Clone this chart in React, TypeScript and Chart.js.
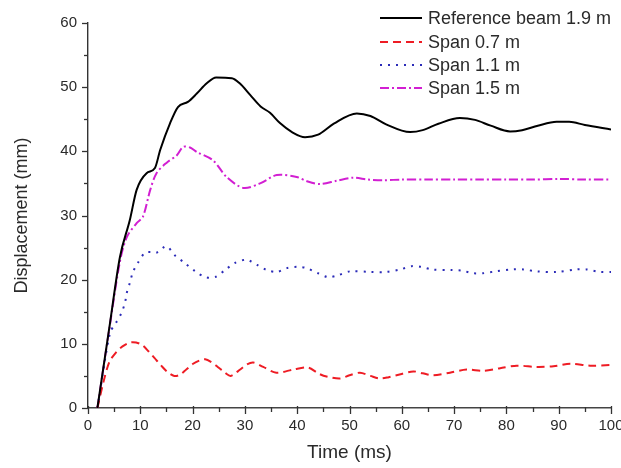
import React, { useEffect, useRef } from "react";
import { Chart, registerables } from "chart.js";

Chart.register(...registerables);

// ---- Data ----
const refTime = [1.8, 4.2, 6.1, 8.0, 9.3, 11.2, 12.8, 13.8, 15.7, 17.2, 19.1, 20.8, 22.7, 24.5, 27.5, 29.0, 31.0, 33.0, 34.8, 36.7, 39.0, 41.5, 44.0, 47.0, 51.4, 54.0, 57.0, 61.6, 64.0, 67.0, 71.1, 74.0, 77.0, 80.7, 83.0, 86.0, 89.6, 92.0, 95.0, 100];
const refDisp = [0, 13.2, 23.5, 29.3, 34.0, 36.6, 37.4, 40.2, 44.4, 46.9, 47.7, 49.0, 50.6, 51.5, 51.4, 50.6, 48.8, 47.0, 46.0, 44.4, 43.0, 42.2, 42.6, 44.3, 45.9, 45.5, 44.2, 43.0, 43.3, 44.3, 45.2, 44.9, 44.0, 43.1, 43.3, 44.0, 44.6, 44.6, 44.1, 43.4];

const span07Time = [1.8, 3.0, 4.1, 5.3, 6.6, 8.0, 9.2, 10.4, 11.6, 12.7, 14.0, 15.2, 16.5, 17.6, 18.8, 20.1, 21.3, 22.4, 23.5, 24.8, 26.2, 27.3, 29.1, 30.4, 31.6, 33.5, 36.0, 39.3, 42.1, 44.0, 45.6, 48.2, 50.0, 52.0, 54.0, 55.8, 57.5, 59.0, 62.2, 64.0, 66.0, 69.2, 72.4, 75.6, 78.8, 82.0, 85.8, 89.0, 92.2, 96.0, 100];
const span07Disp = [0, 4.2, 7.2, 8.6, 9.6, 10.2, 10.2, 9.8, 8.8, 7.8, 6.6, 5.6, 5.0, 5.2, 6.0, 6.9, 7.4, 7.6, 7.2, 6.4, 5.5, 5.0, 6.0, 6.8, 7.1, 6.4, 5.5, 6.0, 6.3, 5.4, 4.9, 4.6, 5.1, 5.5, 5.0, 4.6, 4.8, 5.1, 5.7, 5.4, 5.1, 5.5, 6.0, 5.8, 6.2, 6.6, 6.4, 6.5, 6.9, 6.6, 6.7];

const span11Time = [1.8, 4.2, 5.3, 6.4, 7.1, 7.4, 8.0, 8.6, 9.6, 10.9, 12.0, 13.1, 15.0, 16.6, 18.5, 20.5, 22.4, 24.3, 26.2, 28.1, 30.3, 32.3, 34.2, 36.1, 38.0, 40.2, 41.8, 44.0, 45.9, 47.8, 50.1, 54.0, 57.0, 59.7, 61.9, 63.8, 65.7, 69.5, 71.6, 73.6, 75.5, 78.0, 81.3, 83.2, 85.8, 89.6, 93.4, 95.3, 97.9, 100];
const span11Disp = [0, 11.7, 13.2, 14.8, 16.5, 17.9, 19.5, 21.2, 22.7, 24.2, 24.3, 24.2, 25.2, 23.8, 22.6, 21.3, 20.4, 20.4, 21.5, 22.6, 23.1, 22.3, 21.5, 21.2, 21.8, 22.0, 21.8, 21.0, 20.4, 20.7, 21.3, 21.2, 21.2, 21.6, 22.1, 22.0, 21.6, 21.5, 21.4, 21.0, 21.0, 21.3, 21.6, 21.6, 21.3, 21.2, 21.6, 21.6, 21.2, 21.2];

const span15Time = [1.8, 4.2, 6.1, 7.4, 9.3, 10.5, 11.9, 13.1, 15.0, 17.0, 18.2, 19.5, 20.8, 23.9, 26.5, 29.7, 32.9, 36.1, 39.9, 42.0, 44.4, 47.5, 50.7, 53.5, 56.4, 60, 65, 70, 75, 80, 85, 90, 95, 100];
const span15Disp = [0, 13.0, 22.8, 26.6, 28.8, 29.8, 34.0, 36.6, 38.2, 39.4, 40.7, 40.6, 39.9, 38.6, 36.0, 34.3, 35.0, 36.3, 36.0, 35.3, 34.9, 35.4, 35.9, 35.6, 35.5, 35.6, 35.6, 35.6, 35.6, 35.6, 35.6, 35.7, 35.6, 35.6];

const seriesLabels = ["Reference beam 1.9 m", "Span 0.7 m", "Span 1.1 m", "Span 1.5 m"];
const xTicks = [0, 10, 20, 30, 40, 50, 60, 70, 80, 90, 100];
const yTicks = [0, 10, 20, 30, 40, 50, 60];

const pts = (xs: number[], ys: number[]) => xs.map((x, i) => ({ x, y: ys[i] }));

const FONT = "'Liberation Sans', Arial, sans-serif";
const TEXT = "#2a2a2a";

const tickPlugin = {
  id: "minorTicks",
  afterDraw(chart: any) {
    const { ctx, scales } = chart;
    const xs = scales.x;
    const ys = scales.y;
    ctx.save();
    ctx.strokeStyle = "#333";
    ctx.lineWidth = 1.3;
    const base = ys.getPixelForValue(0);
    for (let v = 0; v <= 100; v += 5) {
      const px = Math.round(xs.getPixelForValue(v)) + 0.5;
      const major = v % 10 === 0;
      ctx.beginPath();
      ctx.moveTo(px, base - (major ? 2 : 1));
      ctx.lineTo(px, base + (major ? 6 : 4));
      ctx.stroke();
    }
    const left = xs.getPixelForValue(0);
    for (let v = 0; v <= 60; v += 5) {
      const py = Math.round(ys.getPixelForValue(v)) + 0.5;
      const major = v % 10 === 0;
      ctx.beginPath();
      ctx.moveTo(left - (major ? 6 : 4), py);
      ctx.lineTo(left, py);
      ctx.stroke();
    }
    // legend
    const rows = [18, 42, 65, 88];
    chart.data.datasets.forEach((ds: any, i: number) => {
      const y = rows[i];
      ctx.save();
      ctx.strokeStyle = ds.borderColor;
      ctx.lineWidth = ds.borderWidth;
      ctx.setLineDash(ds.borderDash || []);
      ctx.beginPath();
      ctx.moveTo(380, y);
      ctx.lineTo(422, y);
      ctx.stroke();
      ctx.restore();
      ctx.fillStyle = TEXT;
      ctx.font = `18px ${FONT}`;
      ctx.textBaseline = "middle";
      ctx.textAlign = "left";
      ctx.fillText(ds.label, 428, y + 1);
    });
    ctx.restore();
  },
};

export default function App() {
  const ref = useRef<HTMLCanvasElement | null>(null);
  useEffect(() => {
    if (!ref.current) return;
    const chart = new Chart(ref.current, {
      type: "line",
      data: {
        datasets: [
          {
            label: seriesLabels[0],
            data: pts(refTime, refDisp),
            borderColor: "#000000",
            borderWidth: 2,
            pointRadius: 0,
            cubicInterpolationMode: "monotone",
          },
          {
            label: seriesLabels[1],
            data: pts(span07Time, span07Disp),
            borderColor: "#ee1c24",
            borderWidth: 2,
            borderDash: [8, 5],
            pointRadius: 0,
            tension: 0.3,
          },
          {
            label: seriesLabels[2],
            data: pts(span11Time, span11Disp),
            borderColor: "#2b2bb8",
            borderWidth: 2,
            borderDash: [2, 6],
            pointRadius: 0,
            tension: 0.3,
          },
          {
            label: seriesLabels[3],
            data: pts(span15Time, span15Disp),
            borderColor: "#d21fd2",
            borderWidth: 2,
            borderDash: [9, 3, 2, 3],
            pointRadius: 0,
            tension: 0.3,
          },
        ] as any,
      },
      options: {
        animation: false,
        responsive: false,
        layout: { padding: { left: 0, right: 10, top: 23, bottom: 0 } },
        plugins: { legend: { display: false }, tooltip: { enabled: false } },
        scales: {
          x: {
            type: "linear",
            min: 0,
            max: 100,
            afterBuildTicks: (s: any) => {
              s.ticks = xTicks.map((v) => ({ value: v }));
            },
            afterFit: (s: any) => {
              s.height = 60;
              s.paddingLeft = 0;
              s.paddingRight = 0;
            },
            grid: { display: false, drawTicks: false },
            border: { display: true, color: "#444", width: 1.6 },
            ticks: {
              color: TEXT,
              font: { family: FONT, size: 15 },
              padding: 9,
              maxRotation: 0,
              autoSkip: false,
            },
            title: {
              display: true,
              text: "Time (ms)",
              color: TEXT,
              font: { family: FONT, size: 19 },
              padding: { top: 0, bottom: 4 },
            },
          },
          y: {
            type: "linear",
            min: 0,
            max: 60,
            afterBuildTicks: (s: any) => {
              s.ticks = yTicks.map((v) => ({ value: v }));
            },
            afterFit: (s: any) => {
              s.width = 88;
              s.paddingTop = 0;
              s.paddingBottom = 0;
            },
            grid: { display: false, drawTicks: false },
            border: { display: true, color: "#333", width: 1.4 },
            ticks: {
              color: TEXT,
              font: { family: FONT, size: 15 },
              padding: 11,
              autoSkip: false,
            },
            title: {
              display: true,
              text: "Displacement (mm)",
              color: TEXT,
              font: { family: FONT, size: 18 },
              padding: { top: 11, bottom: 0 },
            },
          },
        },
      },
      plugins: [tickPlugin],
    });
    return () => chart.destroy();
  }, []);
  return (
    <div style={{ position: "absolute", left: 0, top: 0, width: 621, height: 468, background: "#fff" }}>
      <canvas ref={ref} width={621} height={468} style={{ display: "block" }} />
    </div>
  );
}
